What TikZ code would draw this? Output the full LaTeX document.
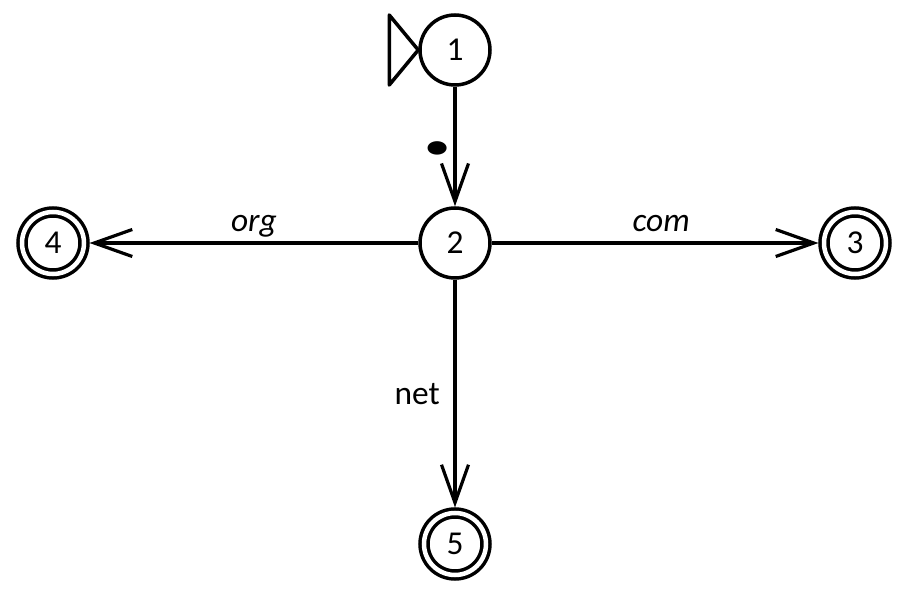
\documentclass[tikz,border=0pt]{standalone}
\usepackage{fontspec}
\setmainfont{Carlito}
\usetikzlibrary{arrows.meta}
\begin{document}
\begin{tikzpicture}[
    state/.style={circle,draw,line width=0.035cm,minimum size=0.70cm,inner sep=0pt},
    accepting/.style={circle,draw,line width=0.035cm,double,double distance=0.045cm,
      minimum size=0.62cm,inner sep=0pt,outer sep=0.055cm},
    trans/.style={line width=0.032cm,-{Straight Barb[length=0.38cm,width=0.27cm,line width=0.032cm]}},
    label/.style={text height=1.5ex,text depth=0.45ex},
    every node/.style={font=\fontsize{9.5}{11}\selectfont}]
  \useasboundingbox (0,0) rectangle (9,6);
  \draw
    (4.55,5.50) node[state] (1){1}
    (4.55,3.57) node[state] (2){2}
    (8.55,3.57) node[accepting] (3){3}
    (0.53,3.57) node[accepting] (4){4}
    (4.55,0.56) node[accepting] (5){5};
  % start marker
  \draw[line width=0.035cm,line join=round] (1.west) -- ++(-0.29,0.35) -- ++(0,-0.70) -- cycle;
  \begin{scope}[trans]
    \draw (1) to node[left=0cm,xshift=0.13cm,yshift=-0.02cm,font=\fontsize{26}{28}\selectfont\bfseries]{\scalebox{1.4}[1]{.}} (2);
    \draw (2) to node[label,above=-0.09cm,xshift=0.06cm]{\itshape com} (3);
    \draw (2) to node[label,above=-0.09cm]{\itshape org} (4);
    \draw (2) to node[left=0.02cm]{net} (5);
  \end{scope}
\end{tikzpicture}
\end{document}
